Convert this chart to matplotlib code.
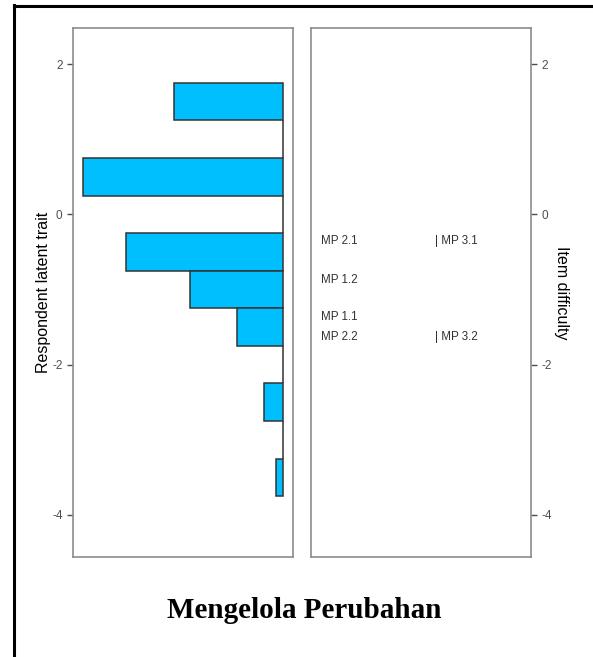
import matplotlib
matplotlib.use("Agg")
import matplotlib.pyplot as plt
from matplotlib.lines import Line2D

# Respondent distribution (histogram bins of width 0.5 on the logit scale)
bin_centers = [1.5, 1.0, 0.5, 0.0, -0.5, -1.0, -1.5, -2.0, -2.5, -3.0, -3.5]
bin_pct = [17.3, 0.0, 31.7, 0.0, 24.9, 14.7, 7.3, 0.0, 3.0, 0.0, 1.1]
bin_width = 0.5

# Item difficulties
item_names = ["MP 2.1", "MP 3.1", "MP 1.2", "MP 1.1", "MP 2.2", "MP 3.2"]
item_difficulty = [-0.36, -0.36, -0.88, -1.37, -1.63, -1.63]
item_column = [0, 1, 0, 0, 0, 1]

y_ticks = [2, 0, -2, -4]
y_limits = (-4.56, 2.48)

W, H = 593, 657
fig = plt.figure(figsize=(W / 100, H / 100), dpi=100)
plt.rcParams["font.family"] = ["Liberation Sans", "DejaVu Sans"]

frame_col = "#8c8c8c"
tick_col = "#4d4d4d"

ax_l = fig.add_axes([73 / W, 1 - 557 / H, 220 / W, 529 / H])
ax_r = fig.add_axes([311 / W, 1 - 557 / H, 220 / W, 529 / H])

# left panel: respondents
ax_l.barh(bin_centers, bin_pct, height=bin_width, color="#00BFFF",
          edgecolor="#333333", linewidth=1.1)
mx = max(bin_pct)
ax_l.set_xlim(1.05 * mx, -0.05 * mx)
ax_l.set_ylim(*y_limits)
ax_l.set_xticks([])
ax_l.set_yticks(y_ticks)
ax_l.set_yticklabels([str(t) for t in y_ticks])
ax_l.tick_params(axis="y", colors=tick_col, labelsize=8.5, length=4, width=1)
ax_l.set_ylabel("Respondent latent trait", fontsize=11.5, color="black", labelpad=1)

# right panel: items
ax_r.set_xlim(0, 1)
ax_r.set_ylim(*y_limits)
ax_r.set_xticks([])
ax_r.yaxis.tick_right()
ax_r.yaxis.set_label_position("right")
ax_r.set_yticks(y_ticks)
ax_r.set_yticklabels([str(t) for t in y_ticks])
ax_r.tick_params(axis="y", colors=tick_col, labelsize=8.5, length=4, width=1)
ax_r.set_ylabel("Item difficulty", fontsize=11.5, color="black", rotation=270,
                labelpad=12)
col_x = [0.045, 0.565]
for name, d, c in zip(item_names, item_difficulty, item_column):
    label = name if c == 0 else "| " + name
    ax_r.text(col_x[c], d, label, fontsize=8.4, color="#333333",
              ha="left", va="center")

for ax in (ax_l, ax_r):
    for s in ax.spines.values():
        s.set_color(frame_col)
        s.set_linewidth(1.2)

fig.text(304 / W, 1 - 610 / H, "Mengelola Perubahan", fontsize=21,
         fontweight="bold", family="Liberation Serif", ha="center", va="center")

# outer border (top and left edges)
fig.add_artist(Line2D([13.5 / W, 1.0], [1 - 5.5 / H, 1 - 5.5 / H],
                      transform=fig.transFigure, color="black", linewidth=2.2))
fig.add_artist(Line2D([13.5 / W, 13.5 / W], [0.0, 1 - 4.5 / H],
                      transform=fig.transFigure, color="black", linewidth=2.2))

fig.savefig("out.png", dpi=100, facecolor="white")
